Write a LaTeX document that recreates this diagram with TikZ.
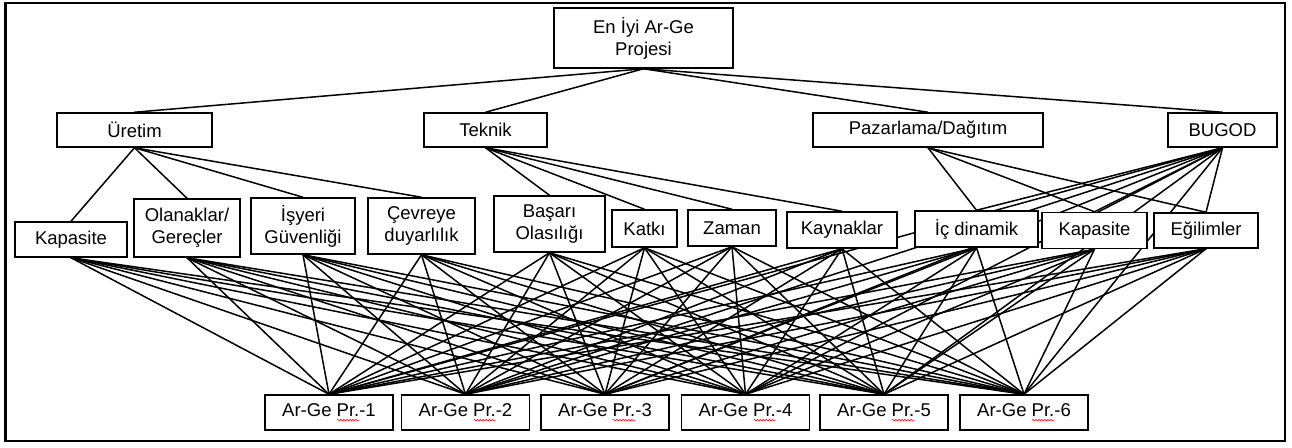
\documentclass[tikz,border=0pt]{standalone}
\usepackage{fontspec}
\setmainfont{Liberation Sans}
\usepackage{tikz}
\usetikzlibrary{backgrounds,decorations.pathmorphing}
\tikzset{box/.style={draw=black, fill=white, line width=1.5pt, align=center,
           inner sep=1pt, font=\fontsize{18.5}{22}\selectfont},
     link/.style={draw=black, line width=1.5pt},
     frame/.style={draw=black, line width=2.8pt}
     }
% red spell-check wave under a word
\def\Squig#1{\setbox0=\hbox{#1}\rlap{\tikz[baseline=0pt]\draw[red, line width=0.6pt,
   decorate, decoration={snake, amplitude=0.8pt, segment length=3pt}]
   (0pt,-3.5pt) -- (\the\wd0,-3.5pt);}\box0}
\def\Block#1#2#3#4#5{%
 \node[box, minimum width=#4, minimum height=#5] (#1) at (#2) {#3};
}
\def\Project#1#2{%
 \node[box, minimum width=128, minimum height=35] (pr#1) at (#2,412.5) {Ar-Ge \Squig{Pr.}-#1};
}

\begin{document}
\begin{tikzpicture}[x=1pt, y=-1pt]
\useasboundingbox (0,0) rectangle (1292,447);
\Block{top}{643.5,38}{En İyi Ar-Ge\\Projesi}{179}{60}
% main criteria
\Block{uretim}{134.5,130}{Üretim}{155}{34}
\Block{teknik}{485.5,130}{Teknik}{123}{34}
\Block{pazar}{928,130}{Pazarlama/Dağıtım}{230}{34}
\Block{bugod}{1222.5,130}{BUGOD}{109}{34}
% sub criteria
\Block{kapA}{71,239.5}{Kapasite}{112}{35}
\Block{olanak}{187,228}{Olanaklar/\\Gereçler}{106}{58}
\Block{isyeri}{303,226}{İşyeri\\Güvenliği}{104}{56}
\Block{cevre}{421.5,226}{Çevreye\\duyarlılık}{107}{56}
\Block{basari}{549.5,224}{Başarı\\Olasılığı}{111}{56}
\Block{katki}{644.5,228.5}{Katkı}{65}{37}
\Block{zaman}{732,228}{Zaman}{88}{36}
\Block{kaynak}{842,230}{Kaynaklar}{110}{36}
\Block{icdin}{976.5,229}{İç dinamik}{123}{36}
\Block{kapB}{1094.5,230.5}{Kapasite}{105}{36}
\Block{egilim}{1206,230.5}{Eğilimler}{104}{35}
% alternatives
\Project{1}{329}
\Project{2}{465.5}
\Project{3}{605}
\Project{4}{745.5}
\Project{5}{884}
\Project{6}{1024}
\begin{pgfonlayer}{background}
\fill[white] (0,0) rectangle (1292,447);
\draw[frame] (5.5,3) rectangle (1285,441);
\foreach \m in {uretim,teknik,pazar,bugod}
  \draw[link] (top.south) -- (\m.north);
\foreach \s in {kapA,olanak,isyeri,cevre}
  \draw[link] (uretim.south) -- (\s.north);
\foreach \s in {basari,katki,zaman,kaynak}
  \draw[link] (teknik.south) -- (\s.north);
\foreach \s in {icdin,kapB,egilim}{
  \draw[link] (pazar.south) -- (\s.north);
  \draw[link] (bugod.south) -- (\s.north);
}
\foreach \p in {1,...,6}{
  \draw[link] (bugod.south) -- (pr\p.north);
  \foreach \s in {kapA,olanak,isyeri,cevre,basari,katki,zaman,kaynak,icdin,kapB,egilim}
    \draw[link] (\s.south) -- (pr\p.north);
}
\end{pgfonlayer}
\end{tikzpicture}
\end{document}
